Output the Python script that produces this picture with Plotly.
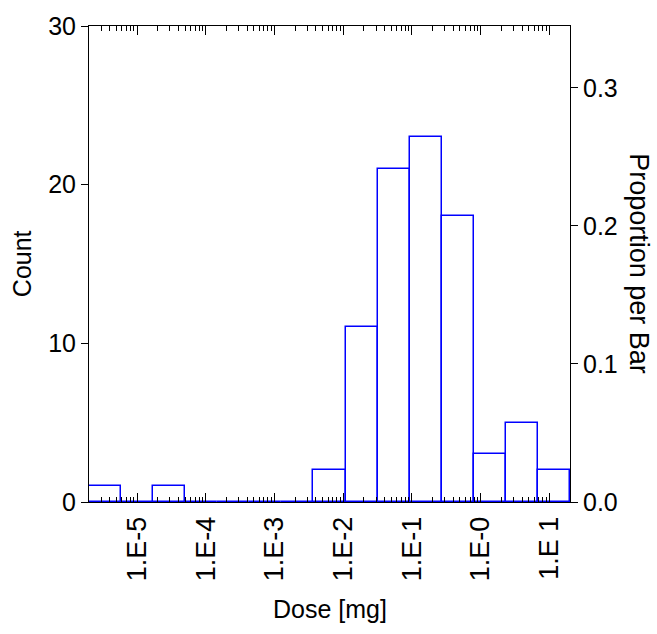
import numpy as np
import plotly.graph_objects as go

# Histogram of dose, binned on a log10 scale
counts = [1, 0, 1, 0, 0, 0, 0, 2, 11, 21, 23, 18, 3, 5, 2]
log_lo, log_hi = -5.7, 1.3          # log10(dose) span of the bins
dose_ticks = [1e-5, 1e-4, 1e-3, 1e-2, 1e-1, 1e0, 1e1]
dose_labels = ["1.E-5", "1.E-4", "1.E-3", "1.E-2", "1.E-1", "1.E-0", "1.E 1"]
count_ticks = [0, 10, 20, 30]
prop_ticks = [0.0, 0.1, 0.2, 0.3]

n_bins = len(counts)
bin_w = (log_hi - log_lo) / n_bins
centers = log_lo + bin_w * (np.arange(n_bins) + 0.5)
total = sum(counts)
count_max = 30

minor_vals = [m * 10.0 ** k for k in range(-6, 2) for m in range(2, 10)
              if log_lo <= np.log10(m * 10.0 ** k) <= log_hi]

FONT = "Liberation Sans, Arial, sans-serif"
FS = 25
BLUE = "#0000FF"

fig = go.Figure()
fig.add_trace(go.Bar(
    x=centers, y=counts, width=bin_w,
    xaxis="x", yaxis="y",
    marker=dict(color="rgba(255,255,255,0)", line=dict(color=BLUE, width=1.5)),
    showlegend=False, hoverinfo="skip",
))
# carrier trace for the log dose axis and the proportion axis
fig.add_trace(go.Scatter(
    x=[10 ** log_lo, 10 ** log_hi], y=[0, 0],
    xaxis="x2", yaxis="y2", mode="lines",
    line=dict(width=0, color="rgba(0,0,0,0)"),
    showlegend=False, hoverinfo="skip",
))

fig.update_layout(
    width=657, height=634,
    margin=dict(l=89, r=87, t=22, b=132),
    plot_bgcolor="white", paper_bgcolor="white",
    font=dict(family=FONT, size=FS, color="black"),
    bargap=0,
    xaxis=dict(
        range=[log_lo, log_hi], visible=False, fixedrange=True,
    ),
    xaxis2=dict(
        type="log", overlaying="x", side="bottom", anchor="y",
        range=[log_lo, log_hi],
        tickmode="array", tickvals=dose_ticks, ticktext=dose_labels,
        tickangle=-90, ticklabelstandoff=3, tickfont=dict(size=27),
        ticks="inside", ticklen=9, tickwidth=1, tickcolor="black",
        minor=dict(tickmode="array", tickvals=minor_vals, ticks="inside",
                   ticklen=5, tickwidth=1, tickcolor="black", showgrid=False),
        showline=True, linecolor="black", linewidth=1, mirror="ticks",
        showgrid=False, zeroline=False,
    ),
    yaxis=dict(
        range=[0, count_max], tickvals=count_ticks,
        ticks="outside", ticklen=7, tickwidth=1, tickcolor="black",
        showline=True, linecolor="black", linewidth=1,
        showgrid=False, zeroline=False,
    ),
    yaxis2=dict(
        overlaying="y", side="right", anchor="x",
        range=[0, count_max / total], tickvals=prop_ticks, tickformat=".1f",
        ticks="outside", ticklen=7, tickwidth=1, tickcolor="black",
        showline=True, linecolor="black", linewidth=1,
        showgrid=False, zeroline=False,
    ),
    annotations=[
        dict(text="Dose [mg]", xref="paper", yref="paper", x=0.5, y=-0.225,
             xanchor="center", yanchor="middle", showarrow=False),
        dict(text="Count", xref="paper", yref="paper", x=-0.139, y=0.5,
             xanchor="center", yanchor="middle", textangle=-90, showarrow=False),
        dict(text="Proportion per Bar", xref="paper", yref="paper", x=1.143, y=0.5,
             xanchor="center", yanchor="middle", textangle=90, showarrow=False,
             font=dict(size=27)),
    ],
)

fig.write_html("out.html")
